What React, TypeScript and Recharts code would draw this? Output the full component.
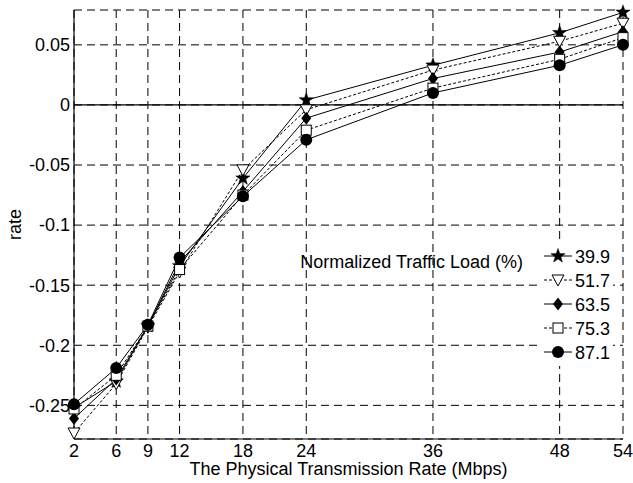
import React from 'react';
import {
  LineChart,
  Line,
  XAxis,
  YAxis,
  CartesianGrid,
  ReferenceLine,
  Label,
} from 'recharts';

// physical rates (Mbps) on the x axis
const rates = [2, 6, 9, 12, 18, 24, 36, 48, 54];

// rate values per normalized traffic load
const load399 = [-0.252, -0.23, -0.184, -0.134, -0.061, 0.004, 0.033, 0.06, 0.077];
const load517 = [-0.273, -0.232, -0.185, -0.139, -0.054, -0.004, 0.029, 0.053, 0.068];
const load635 = [-0.261, -0.228, -0.184, -0.131, -0.072, -0.011, 0.022, 0.044, 0.061];
const load753 = [-0.253, -0.225, -0.184, -0.137, -0.075, -0.021, 0.014, 0.038, 0.056];
const load871 = [-0.249, -0.219, -0.183, -0.127, -0.076, -0.029, 0.01, 0.033, 0.05];

const loadLabels = ['39.9', '51.7', '63.5', '75.3', '87.1'];
const yTicks = [-0.25, -0.2, -0.15, -0.1, -0.05, 0, 0.05];

const FONT = '"Liberation Sans", Arial, sans-serif';

const data = rates.map((r, i) => ({
  rate: r,
  l399: load399[i],
  l517: load517[i],
  l635: load635[i],
  l753: load753[i],
  l871: load871[i],
}));

type MarkerKind = 'star' | 'triangle' | 'diamond' | 'square' | 'circle';

function Marker({ kind, cx, cy }: { kind: MarkerKind; cx: number; cy: number }) {
  if (kind === 'star') {
    const pts: string[] = [];
    for (let k = 0; k < 10; k++) {
      const rad = k % 2 === 0 ? 7.5 : 3;
      const a = -Math.PI / 2 + (k * Math.PI) / 5;
      pts.push(`${cx + rad * Math.cos(a)},${cy + rad * Math.sin(a)}`);
    }
    return <polygon points={pts.join(' ')} fill="#000" stroke="#000" strokeWidth={0.5} />;
  }
  if (kind === 'triangle') {
    return (
      <polygon
        points={`${cx - 6},${cy - 5} ${cx + 6},${cy - 5} ${cx},${cy + 6}`}
        fill="#fff"
        stroke="#000"
        strokeWidth={1}
      />
    );
  }
  if (kind === 'diamond') {
    return (
      <polygon
        points={`${cx},${cy - 6.5} ${cx + 5},${cy} ${cx},${cy + 6.5} ${cx - 5},${cy}`}
        fill="#000"
      />
    );
  }
  if (kind === 'square') {
    return <rect x={cx - 5} y={cy - 5} width={10} height={10} fill="#fff" stroke="#000" strokeWidth={1} />;
  }
  return <circle cx={cx} cy={cy} r={6} fill="#000" />;
}

const series: { key: string; dash?: string; marker: MarkerKind }[] = [
  { key: 'l399', marker: 'star' },
  { key: 'l517', dash: '3 2', marker: 'triangle' },
  { key: 'l635', marker: 'diamond' },
  { key: 'l753', dash: '3 2', marker: 'square' },
  { key: 'l871', marker: 'circle' },
];

// legend box drawn inside the plot, like the original figure
function LoadLegend() {
  return (
    <g fontFamily={FONT} fontSize={18} fill="#000">
      <text x={523} y={268} textAnchor="end">
        Normalized Traffic Load (%)
      </text>
      <rect x={540} y={244} width={73} height={122} fill="#fff" />
      {series.map((s, i) => {
        const cy = 256 + i * 24;
        return (
          <g key={s.key}>
            <line x1={544} x2={572} y1={cy} y2={cy} stroke="#000" strokeWidth={1} strokeDasharray={s.dash} />
            <Marker kind={s.marker} cx={558} cy={cy} />
            <text x={575} y={cy + 6.5}>
              {loadLabels[i]}
            </text>
          </g>
        );
      })}
    </g>
  );
}

export default function App() {
  return (
    <div style={{ position: 'absolute', left: 0, top: 0, width: 633, height: 483, background: '#fff' }}>
      <LineChart
        width={633}
        height={483}
        data={data}
        margin={{ top: 10, right: 10, bottom: 0, left: 0 }}
        style={{ fontFamily: FONT }}
      >
        <CartesianGrid stroke="#000" strokeDasharray="8 5" strokeWidth={1} />
        <XAxis
          dataKey="rate"
          type="number"
          domain={[2, 54]}
          ticks={rates}
          interval={0}
          height={44}
          tickSize={0}
          tickMargin={5}
          tick={{ fill: '#000', fontSize: 18 }}
          axisLine={{ stroke: '#000', strokeWidth: 1.2 }}
        >
          <Label
            content={() => (
              <text x={348.5} y={475} textAnchor="middle" fontSize={18} fontFamily={FONT} fill="#000">
                The Physical Transmission Rate (Mbps)
              </text>
            )}
          />
        </XAxis>
        <XAxis
          xAxisId="top"
          orientation="top"
          type="number"
          domain={[2, 54]}
          height={0}
          tick={false}
          tickLine={false}
          axisLine={{ stroke: '#000', strokeWidth: 1.2 }}
        />
        <YAxis
          type="number"
          domain={[-0.278, 0.079]}
          ticks={yTicks}
          interval={0}
          width={74}
          tickSize={0}
          tickMargin={4}
          tick={{ fill: '#000', fontSize: 18 }}
          axisLine={{ stroke: '#000', strokeWidth: 1.2 }}
        >
          <Label
            content={() => (
              <text
                x={21}
                y={224.5}
                transform="rotate(-90 21 224.5)"
                textAnchor="middle"
                fontSize={18}
                fontFamily={FONT}
                fill="#000"
              >
                rate
              </text>
            )}
          />
        </YAxis>
        <YAxis
          yAxisId="right"
          orientation="right"
          type="number"
          domain={[-0.278, 0.079]}
          width={0}
          tick={false}
          tickLine={false}
          axisLine={{ stroke: '#000', strokeWidth: 1.2 }}
        />
        <ReferenceLine y={0} stroke="#000" strokeWidth={1.2} />
        {series.map((s) => (
          <Line
            key={s.key}
            dataKey={s.key}
            type="linear"
            stroke="#000"
            strokeWidth={1}
            strokeDasharray={s.dash}
            isAnimationActive={false}
            dot={(p: any) => <Marker key={`${s.key}-${p.index}`} kind={s.marker} cx={p.cx} cy={p.cy} />}
            activeDot={false}
          />
        ))}
        <LoadLegend />
      </LineChart>
    </div>
  );
}
